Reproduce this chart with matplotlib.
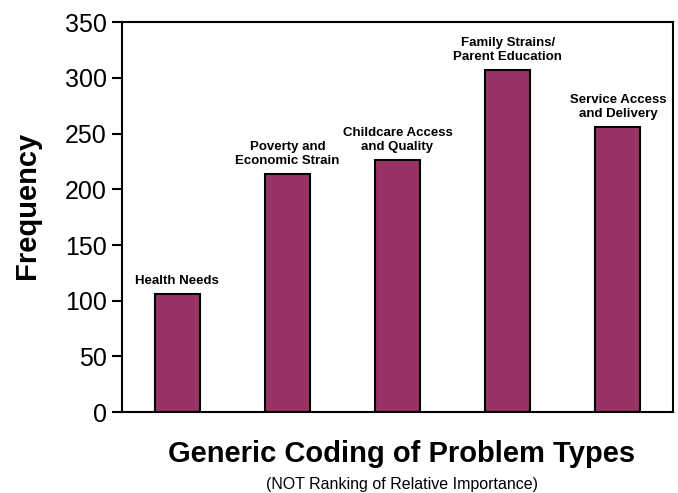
import matplotlib
matplotlib.use("Agg")
import matplotlib.pyplot as plt

categories = ["Health Needs", "Poverty and\nEconomic Strain", "Childcare Access\nand Quality",
              "Family Strains/\nParent Education", "Service Access\nand Delivery"]
values = [106, 214, 226, 307, 256]
yticks = [0, 50, 100, 150, 200, 250, 300, 350]

plt.rcParams['font.family'] = ['Liberation Sans', 'DejaVu Sans']

fig = plt.figure(figsize=(6.78, 4.93), dpi=100)
ax = fig.add_axes([0.180, 0.164, 0.8126, 0.791])

x = list(range(len(categories)))
ax.bar(x, values, width=0.41, color="#993366", edgecolor="black", linewidth=1.5, zorder=2)
for xi, v, lab in zip(x, values, categories):
    ax.annotate(lab, (xi, v), xytext=(0, 5), textcoords="offset points",
                ha="center", va="bottom", fontsize=9.5, fontweight="bold", linespacing=1.25)

ax.set_xlim(-0.5, len(categories) - 0.5)
ax.set_ylim(0, 350)
ax.set_yticks(yticks)
ax.set_yticklabels([str(t) for t in yticks], fontsize=18)
ax.set_xticks([])
ax.tick_params(axis='y', direction='out', length=7, width=1.5, pad=4)
for s in ax.spines.values():
    s.set_linewidth(1.5)

ax.set_ylabel("Frequency", fontsize=21, fontweight="bold")
ax.yaxis.set_label_coords(-0.148, 0.53)
fig.text(0.593, 0.080, "Generic Coding of Problem Types", ha="center", va="center",
         fontsize=21, fontweight="bold")
fig.text(0.593, 0.018, "(NOT Ranking of Relative Importance)", ha="center", va="center",
         fontsize=11.5)

fig.savefig("out.png", dpi=100)
